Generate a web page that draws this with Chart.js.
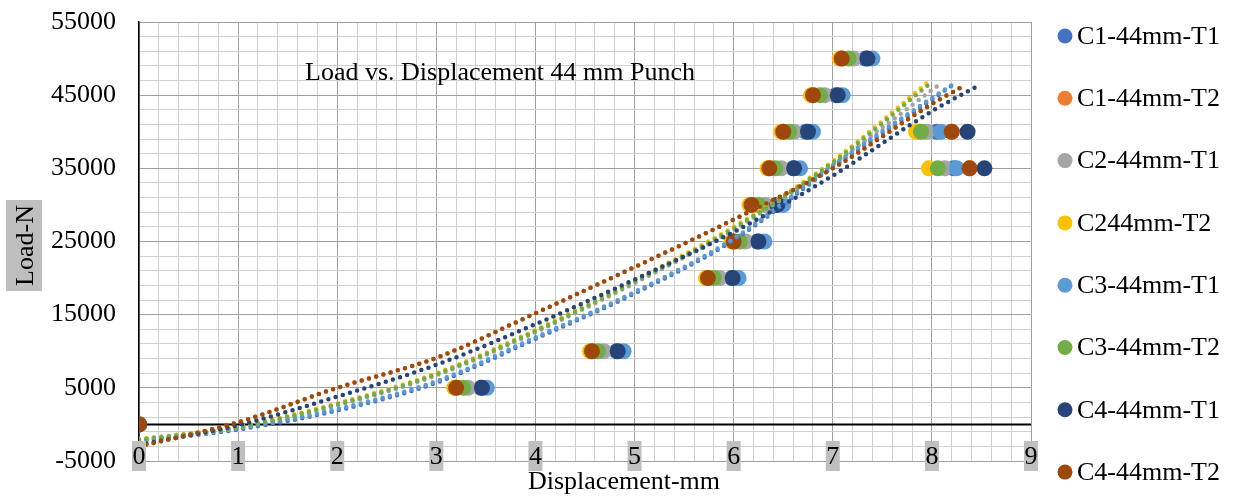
<!DOCTYPE html>
<html>
<head>
<meta charset="utf-8">
<script src="https://cdn.jsdelivr.net/npm/chart.js@4.4.0/dist/chart.umd.min.js"></script>
<style>
  html, body { margin: 0; padding: 0; background: #fff; }
  #wrap { width: 1236px; height: 498px; }
</style>
</head>
<body>
<div id="wrap"><canvas id="myChart" width="1236" height="498"></canvas></div>
<script>
// series names / colours (Excel order)
const seriesNames = ['C1-44mm-T1', 'C1-44mm-T2', 'C2-44mm-T1', 'C244mm-T2',
                     'C3-44mm-T1', 'C3-44mm-T2', 'C4-44mm-T1', 'C4-44mm-T2'];
const seriesColors = ['#4472C4', '#ED7D31', '#A5A5A5', '#FFC000',
                      '#5B9BD5', '#70AD47', '#264478', '#9E480E'];

// load (N) for every measured point, same for all series
const loads = [0, 5000, 10000, 20000, 25000, 30000, 35000, 40000, 45000, 50000, 40000, 35000];

// displacement (mm) per series
const dispC1T1 = [0, 3.45, 4.82, 5.98, 6.24, 6.43, 6.60, 6.73, 7.03, 7.33, 8.05, 8.22];
const dispC1T2 = [0, 3.20, 4.57, 5.74, 6.00, 6.18, 6.36, 6.50, 6.80, 7.09, 8.20, 8.38];
const dispC2T1 = [0, 3.32, 4.69, 5.86, 6.12, 6.32, 6.48, 6.61, 6.92, 7.21, 7.95, 8.13];
const dispC2T2 = [0, 3.18, 4.55, 5.72, 5.98, 6.16, 6.34, 6.48, 6.78, 7.07, 7.84, 7.97];
const dispC3T1 = [0, 3.51, 4.89, 6.05, 6.31, 6.50, 6.67, 6.80, 7.10, 7.40, 8.09, 8.25];
const dispC3T2 = [0, 3.27, 4.63, 5.80, 6.06, 6.25, 6.42, 6.56, 6.87, 7.16, 7.89, 8.06];
const dispC4T1 = [0, 3.46, 4.83, 5.99, 6.25, 6.44, 6.61, 6.75, 7.05, 7.35, 8.36, 8.53];
const dispC4T2 = [0, 3.20, 4.57, 5.74, 6.00, 6.18, 6.36, 6.50, 6.80, 7.09, 8.20, 8.38];

// trendlines (dotted)
const trendXC1T1 = [0, 1, 2, 3, 4, 5, 6, 7, 8, 8.22];
const trendYC1T1 = [-2300, -700, 1900, 5700, 11700, 17900, 25200, 35200, 44400, 46500];
const trendXC1T2 = [0, 1, 2, 3, 4, 5, 6, 7, 8, 8.3];
const trendYC1T2 = [-3000, 300, 5000, 9100, 15200, 21500, 28000, 35000, 43800, 46100];
const trendXC2T1 = [0, 1, 2, 3, 4, 5, 6, 7, 8.1];
const trendYC2T1 = [-2200, -500, 2600, 6700, 12600, 19300, 26600, 35600, 46700];
const trendXC2T2 = [0, 1, 2, 3, 4, 5, 6, 7, 7.97];
const trendYC2T2 = [-2000, -300, 2900, 7000, 12900, 19700, 27000, 36000, 46900];
const trendXC3T1 = [0, 1, 2, 3, 4, 5, 6, 7, 8, 8.25];
const trendYC3T1 = [-2100, -500, 2100, 5900, 11900, 18100, 25400, 35400, 44600, 46800];
const trendXC3T2 = [0, 1, 2, 3, 4, 5, 6, 7, 8.0];
const trendYC3T2 = [-2100, -400, 2750, 6850, 12750, 19500, 26800, 35800, 46800];
const trendXC4T1 = [0, 1, 2, 3, 4, 5, 6, 7, 8, 8.48];
const trendYC4T1 = [-2800, -100, 3800, 8150, 13700, 19800, 26300, 34000, 42800, 46400];
const trendXC4T2 = [0, 1, 2, 3, 4, 5, 6, 7, 8, 8.3];
const trendYC4T2 = [-3000, 300, 5000, 9100, 15200, 21500, 28000, 35000, 43800, 46100];

const xTicks = [0, 1, 2, 3, 4, 5, 6, 7, 8, 9];
const yTicks = [-5000, 5000, 15000, 25000, 35000, 45000, 55000];

const dispList = [dispC1T1, dispC1T2, dispC2T1, dispC2T2, dispC3T1, dispC3T2, dispC4T1, dispC4T2];
const trendXList = [trendXC1T1, trendXC1T2, trendXC2T1, trendXC2T2, trendXC3T1, trendXC3T2, trendXC4T1, trendXC4T2];
const trendYList = [trendYC1T1, trendYC1T2, trendYC2T1, trendYC2T2, trendYC3T1, trendYC3T2, trendYC4T1, trendYC4T2];

const FONT = '"Liberation Serif", "Times New Roman", serif';

let datasets = [];
seriesNames.forEach((name, i) => {
  datasets.push({
    label: name,
    data: dispList[i].map((d, k) => ({x: d, y: loads[k]})),
    backgroundColor: seriesColors[i],
    borderColor: seriesColors[i],
    pointRadius: 8,
    pointBorderWidth: 0,
    showLine: false,
    order: 30 - i
  });
});
seriesNames.forEach((name, i) => {
  datasets.push({
    label: 'trend ' + name,
    data: trendXList[i].map((d, k) => ({x: d, y: trendYList[i][k]})),
    borderColor: seriesColors[i],
    borderWidth: 4.5,
    borderDash: [0, 7.5],
    borderCapStyle: 'round',
    pointRadius: 0,
    showLine: true,
    cubicInterpolationMode: 'monotone',
    fill: false,
    order: 20 - i
  });
});

const isMajorX = v => Math.abs(v - Math.round(v)) < 1e-6;
const isMajorY = v => yTicks.includes(Math.round(v));

const extras = {
  id: 'extras',
  beforeDatasetsDraw(chart) {
    const {ctx, chartArea: a, scales: {x, y}} = chart;
    const y0 = y.getPixelForValue(0);
    ctx.save();
    ctx.strokeStyle = '#000';
    ctx.lineWidth = 2;
    ctx.beginPath();
    ctx.moveTo(a.left, y0);
    ctx.lineTo(a.right, y0);
    ctx.stroke();
    ctx.restore();
  },
  afterDraw(chart) {
    const {ctx, scales: {x, y}} = chart;
    ctx.save();
    ctx.font = '26px ' + FONT;
    ctx.textAlign = 'center';
    ctx.textBaseline = 'middle';
    // x tick labels with grey boxes
    xTicks.forEach(v => {
      const px = x.getPixelForValue(v);
      ctx.fillStyle = '#bfbfbf';
      ctx.fillRect(px - 7, 441, 14, 30);
      ctx.fillStyle = '#000';
      ctx.fillText(String(v), px, 457);
    });
    // x title
    ctx.fillText('Displacement-mm', 624, 482);
    // chart title
    ctx.fillText('Load vs. Displacement 44 mm Punch', 500, 73);
    // y title
    ctx.fillStyle = '#bfbfbf';
    ctx.fillRect(6, 200, 36, 91);
    ctx.save();
    ctx.translate(25, 245.5);
    ctx.rotate(-Math.PI / 2);
    ctx.fillStyle = '#000';
    ctx.fillText('Load-N', 0, 1);
    ctx.restore();
    // legend
    ctx.textAlign = 'left';
    seriesNames.forEach((name, i) => {
      const cy = 36 + i * 62.3;
      ctx.fillStyle = seriesColors[i];
      ctx.beginPath();
      ctx.arc(1065, cy, 7.5, 0, Math.PI * 2);
      ctx.fill();
      ctx.fillStyle = '#000';
      ctx.fillText(name, 1077, cy + 1);
    });
    ctx.restore();
  }
};

let ctx = document.getElementById('myChart').getContext('2d');
let myChart = new Chart(ctx, {
  type: 'scatter',
  data: { datasets: datasets },
  options: {
    responsive: false,
    devicePixelRatio: 1,
    animation: false,
    layout: { padding: { left: 0, top: 22, right: 205, bottom: 0 } },
    plugins: {
      legend: { display: false },
      tooltip: { enabled: false },
      title: { display: false }
    },
    scales: {
      x: {
        type: 'linear',
        min: 0,
        max: 9,
        ticks: { stepSize: 0.2, display: false, autoSkip: false },
        grid: {
          drawTicks: false,
          color: c => isMajorX(c.tick.value) ? '#a0a0a0' : '#d0d0d0',
          lineWidth: 1
        },
        border: { display: false },
        afterFit: s => { s.height = 37; s.paddingLeft = 0; s.paddingRight = 0; }
      },
      y: {
        type: 'linear',
        min: -5000,
        max: 55000,
        ticks: {
          stepSize: 2000,
          autoSkip: false,
          padding: 23,
          color: '#000',
          font: { family: FONT, size: 26 },
          callback: v => isMajorY(v) ? String(Math.round(v)) : ''
        },
        grid: {
          drawTicks: false,
          color: c => isMajorY(c.tick.value) ? '#a0a0a0' : '#d0d0d0',
          lineWidth: 1
        },
        border: { display: true, color: '#000', width: 1.5 },
        afterFit: s => { s.width = 139; s.paddingTop = 0; s.paddingBottom = 0; }
      }
    }
  },
  plugins: [extras]
});
</script>
</body>
</html>
